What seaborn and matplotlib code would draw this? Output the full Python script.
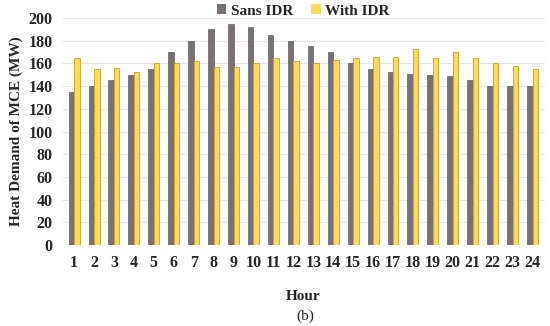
import pandas as pd
import matplotlib
matplotlib.use("Agg")
import matplotlib.pyplot as plt
import seaborn as sns

# Hourly heat demand (MW)
HOURS = list(range(1, 25))
SANS_IDR = [135, 140, 145, 150, 155, 170, 180, 190, 195, 192, 185, 180,
            175, 170, 160, 155, 152, 151, 150, 149, 145, 140, 140, 140]
WITH_IDR = [165, 155, 156, 152, 160, 160, 162, 157, 157, 160, 165, 162,
            160, 163, 165, 166, 166, 173, 165, 170, 165, 160, 158, 155]

df = pd.DataFrame({"Hour": HOURS, "Sans IDR": SANS_IDR, "With IDR": WITH_IDR})
long_df = df.melt(id_vars="Hour", var_name="scenario", value_name="demand")

sns.set_style("white")
plt.rcParams["font.family"] = ["Liberation Serif", "DejaVu Serif"]
plt.rcParams["font.weight"] = "bold"

fig = plt.figure(figsize=(5.5, 3.26), dpi=100)
ax = fig.add_axes([0.113, 0.248, 0.877, 0.697])

palette = {"Sans IDR": "#787173", "With IDR": "#ffd95c"}
sns.barplot(data=long_df, x="Hour", y="demand", hue="scenario", palette=palette,
            width=0.55, saturation=1, ax=ax, edgecolor="none")

# darker edge on the bars, like the 3D shading
for patch in ax.containers[1]:
    patch.set_edgecolor("#c9a227")
    patch.set_linewidth(0.6)
for patch in ax.containers[0]:
    patch.set_edgecolor("#4e4a4b")
    patch.set_linewidth(0.4)

ax.set_ylim(0, 200)
ax.set_yticks(range(0, 201, 20))
ax.set_xlim(-0.6, 23.6)
ax.grid(axis="y", color="#e6e6e6", linewidth=0.8)
ax.set_axisbelow(True)
for s in ax.spines.values():
    s.set_visible(False)
ax.tick_params(axis="both", length=0, labelsize=11.5, pad=7)
for lbl in ax.get_xticklabels() + ax.get_yticklabels():
    lbl.set_fontweight("bold")

ax.set_ylabel("Heat Demand of MCE (MW)", fontsize=11, fontweight="bold", labelpad=4)
ax.set_xlabel("Hour", fontsize=11, fontweight="bold", labelpad=14)

leg = ax.legend(loc="upper center", bbox_to_anchor=(0.5, 1.12), ncol=2, frameon=False,
                handlelength=0.6, handleheight=0.6, handletextpad=0.3, columnspacing=1.2,
                prop={"weight": "bold", "size": 11})

fig.text(0.555, 0.02, "(b)", ha="center", fontsize=11, fontweight="normal")

fig.savefig("out.png", dpi=100)
